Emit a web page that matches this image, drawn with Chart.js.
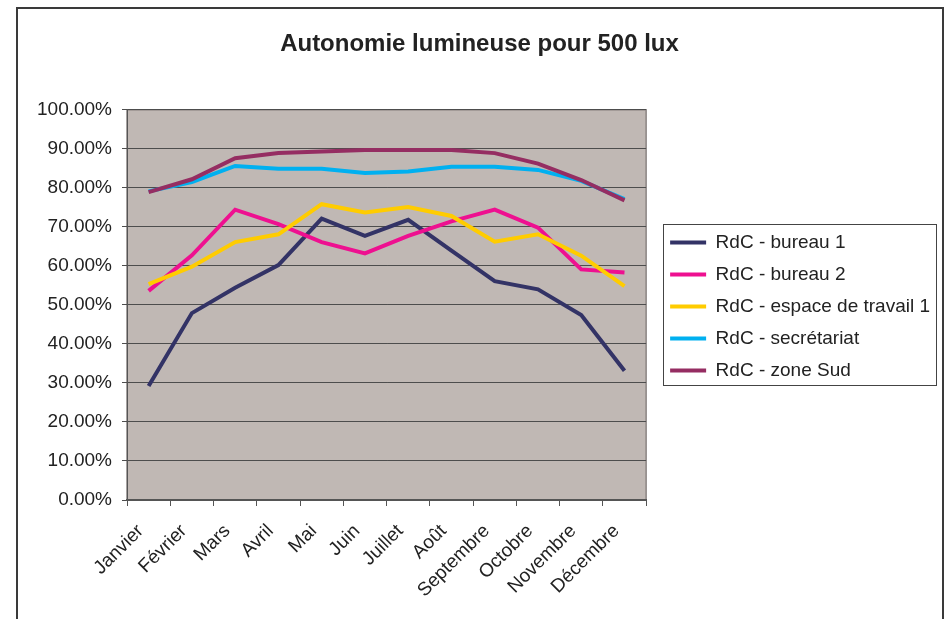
<!DOCTYPE html>
<html>
<head>
<meta charset="utf-8">
<script src="https://cdn.jsdelivr.net/npm/chart.js@4/dist/chart.umd.min.js"></script>
<style>
  html, body { margin: 0; padding: 0; background: #fff; }
  #wrap { width: 944px; height: 619px; }
</style>
</head>
<body>
<div id="wrap"><canvas id="chart" width="944" height="619"></canvas></div>
<script>
// months and series (in %)
const months = ["Janvier", "Février", "Mars", "Avril", "Mai", "Juin", "Juillet", "Août", "Septembre", "Octobre", "Novembre", "Décembre"];
const bureau1 = [29.2, 47.9, 54.4, 60.2, 72.1, 67.7, 71.8, 63.9, 56.1, 54.0, 47.4, 33.1];
const bureau2 = [53.6, 62.7, 74.4, 70.7, 66.1, 63.2, 67.7, 71.4, 74.4, 69.8, 59.1, 58.3];
const espace1 = [55.3, 59.8, 66.1, 68.1, 75.8, 73.7, 75.1, 72.8, 66.2, 68.1, 62.6, 54.8];
const secretariat = [79.1, 81.5, 85.6, 84.9, 84.9, 83.8, 84.2, 85.4, 85.4, 84.6, 81.8, 77.1];
const zoneSud = [78.9, 82.2, 87.6, 88.9, 89.3, 89.7, 89.7, 89.7, 88.9, 86.2, 82.0, 76.8];
const yTicks = [0, 10, 20, 30, 40, 50, 60, 70, 80, 90, 100];

const FONT = "'Liberation Sans', Arial, sans-serif";

// later series are drawn on top, like in the original
function serie(label, data, color, i) {
  return { label, data, borderColor: color, backgroundColor: color, borderWidth: 4, pointRadius: 0, tension: 0, fill: false, order: 10 - i };
}

// white page, outer frame and grey plot background
const framePlugin = {
  id: "frame",
  afterLayout(chart) {
    // nudge legend and title to sit like the original
    if (chart.legend) { chart.legend.left += 11; chart.legend.right += 11; }
    if (chart.titleBlock) { chart.titleBlock.left += 6; chart.titleBlock.right += 6; }
  },
  beforeDraw(chart) {
    const { ctx, chartArea: a } = chart;
    ctx.save();
    ctx.fillStyle = "#fff";
    ctx.fillRect(0, 0, chart.width, chart.height);
    ctx.strokeStyle = "#3a3a3a";
    ctx.lineWidth = 2;
    ctx.strokeRect(17, 8, 926, 640);
    ctx.fillStyle = "#c0b8b4";
    ctx.fillRect(a.left, a.top, a.right - a.left, a.bottom - a.top);
    ctx.strokeStyle = "#8a8482";
    ctx.lineWidth = 1.5;
    ctx.strokeRect(a.left, a.top, a.right - a.left, a.bottom - a.top);
    ctx.restore();
  },
  afterDraw(chart) {
    // box round the legend
    const boxes = chart.legend && chart.legend.legendHitBoxes;
    if (!boxes || !boxes.length) return;
    let l = Infinity, t = Infinity, r = -Infinity, b = -Infinity;
    boxes.forEach(h => { l = Math.min(l, h.left); t = Math.min(t, h.top); r = Math.max(r, h.left + h.width); b = Math.max(b, h.top + h.height); });
    const { ctx } = chart;
    ctx.save();
    ctx.strokeStyle = "#444";
    ctx.lineWidth = 1;
    ctx.strokeRect(Math.round(l - 7) + 0.5, Math.round(t - 9) + 0.5, Math.round(r - l + 13), Math.round(b - t + 14));
    ctx.restore();
  }
};

new Chart(document.getElementById("chart").getContext("2d"), {
  type: "line",
  data: {
    labels: months,
    datasets: [
      serie("RdC - bureau 1", bureau1, "#333366", 0),
      serie("RdC - bureau 2", bureau2, "#ee1090", 1),
      serie("RdC - espace de travail 1", espace1, "#ffcc00", 2),
      serie("RdC - secrétariat", secretariat, "#00b0f0", 3),
      serie("RdC - zone Sud", zoneSud, "#952d62", 4)
    ]
  },
  options: {
    responsive: false,
    animation: false,
    devicePixelRatio: 1,
    layout: { padding: { left: 18, right: 15, top: 10, bottom: 16 } },
    plugins: {
      title: {
        display: true,
        text: "Autonomie lumineuse pour 500 lux",
        color: "#222",
        font: { family: FONT, size: 24, weight: "bold" },
        padding: { top: 20, bottom: 51 }
      },
      legend: {
        position: "right",
        maxWidth: 320,
        labels: {
          boxWidth: 36,
          boxHeight: 4,
          padding: 13,
          color: "#222",
          font: { family: FONT, size: 19 },
          sort: (a, b) => a.datasetIndex - b.datasetIndex,
          generateLabels(chart) {
            return Chart.defaults.plugins.legend.labels.generateLabels(chart).map(it => ({ ...it, lineWidth: 0, fillStyle: it.strokeStyle }));
          }
        }
      },
      tooltip: { enabled: false }
    },
    scales: {
      x: {
        offset: true,
        afterFit(s) { s.height = 103; },
        grid: { display: true, drawOnChartArea: false, offset: true, tickLength: 6, color: "#555" },
        border: { color: "#555", width: 2 },
        ticks: { maxRotation: 45, minRotation: 45, padding: 14, labelOffset: -8, color: "#222", font: { family: FONT, size: 19 } }
      },
      y: {
        min: 0,
        max: 100,
        afterFit(s) { s.width = 109; },
        afterBuildTicks(s) { s.ticks = yTicks.map(v => ({ value: v })); },
        grid: { color: "#4d4d4d", lineWidth: 1, tickLength: 5 },
        border: { color: "#555", width: 1 },
        ticks: { padding: 10, color: "#222", font: { family: FONT, size: 19 }, callback: v => v.toFixed(2) + "%" }
      }
    }
  },
  plugins: [framePlugin]
});
</script>
</body>
</html>
